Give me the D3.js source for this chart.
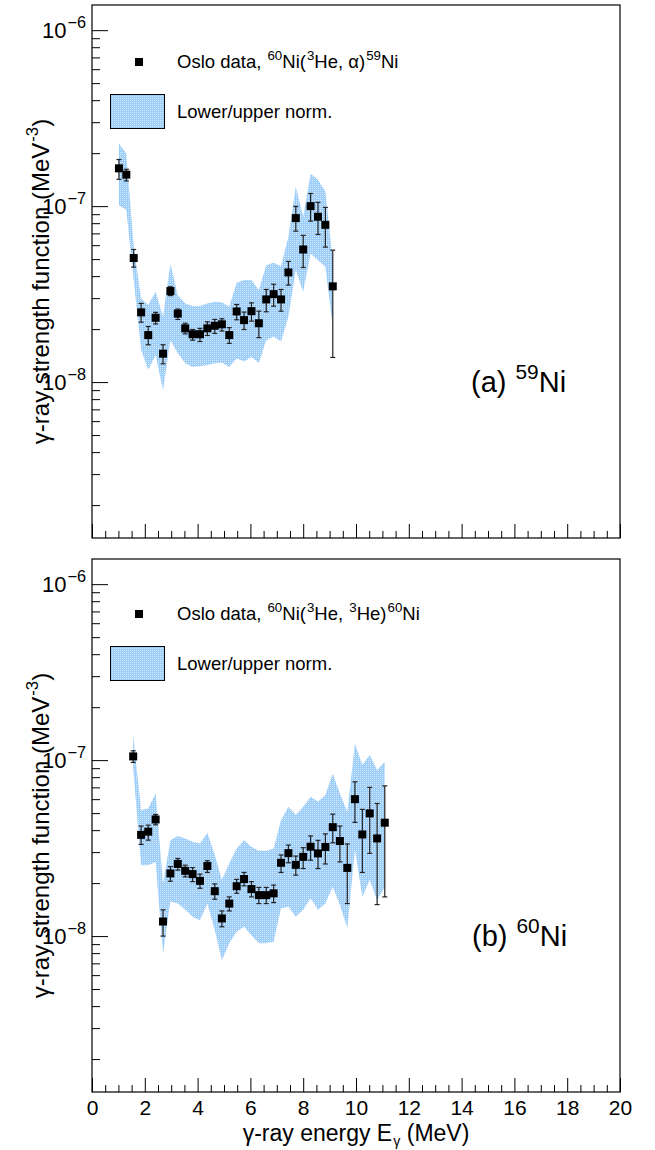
<!DOCTYPE html>
<html>
<head>
<meta charset="utf-8">
<script src="https://cdn.jsdelivr.net/npm/d3@7"></script>
<style>
  body { margin: 0; background: #fff; }
  text { font-family: "Liberation Sans", Arial, Helvetica, sans-serif; fill: #000; }
</style>
</head>
<body>
<div id="chart"></div>
<script>
// ---- data: panel (a) 59Ni ----
var energyA = [1.02, 1.30, 1.58, 1.86, 2.13, 2.41, 2.69, 2.97, 3.25, 3.53, 3.81, 4.09, 4.37, 4.65, 4.92,
               5.20, 5.48, 5.76, 6.04, 6.32, 6.60, 6.88, 7.16, 7.44, 7.72, 8.00, 8.28, 8.56, 8.84, 9.12];
var fA    = [1.64e-7, 1.51e-7, 5.07e-8, 2.49e-8, 1.85e-8, 2.32e-8, 1.45e-8, 3.29e-8, 2.45e-8, 2.02e-8,
             1.87e-8, 1.87e-8, 2.02e-8, 2.09e-8, 2.13e-8, 1.85e-8, 2.52e-8, 2.25e-8, 2.53e-8, 2.16e-8,
             2.95e-8, 3.16e-8, 2.95e-8, 4.20e-8, 8.55e-8, 5.67e-8, 1.00e-7, 8.70e-8, 7.83e-8, 3.50e-8];
var fA_hi = [1.84e-7, 1.62e-7, 5.67e-8, 2.80e-8, 2.07e-8, 2.49e-8, 1.63e-8, 3.48e-8, 2.60e-8, 2.16e-8,
             1.99e-8, 2.02e-8, 2.20e-8, 2.27e-8, 2.29e-8, 2.04e-8, 2.76e-8, 2.50e-8, 2.82e-8, 2.53e-8,
             3.36e-8, 3.60e-8, 3.36e-8, 4.85e-8, 9.96e-8, 6.82e-8, 1.18e-7, 1.05e-7, 9.83e-8, 5.62e-8];
var fA_lo = [1.42e-7, 1.39e-7, 4.50e-8, 2.19e-8, 1.63e-8, 2.14e-8, 1.27e-8, 3.10e-8, 2.27e-8, 1.88e-8,
             1.73e-8, 1.70e-8, 1.84e-8, 1.89e-8, 1.95e-8, 1.66e-8, 2.26e-8, 1.99e-8, 2.22e-8, 1.79e-8,
             2.51e-8, 2.70e-8, 2.53e-8, 3.56e-8, 7.21e-8, 4.48e-8, 8.22e-8, 6.90e-8, 5.85e-8, 1.38e-8];
var bandA_hi = [2.27e-7, 1.99e-7, 5.87e-8, 2.99e-8, 2.74e-8, 3.26e-8, 2.35e-8, 4.72e-8, 3.12e-8, 2.80e-8,
                2.71e-8, 2.71e-8, 2.80e-8, 2.86e-8, 2.84e-8, 2.68e-8, 3.67e-8, 3.80e-8, 3.80e-8, 3.33e-8,
                4.62e-8, 4.77e-8, 4.56e-8, 6.70e-8, 1.29e-7, 8.70e-8, 1.53e-7, 1.41e-7, 1.21e-7, 4.93e-8];
var bandA_lo = [1.01e-7, 9.50e-8, 3.80e-8, 1.52e-8, 1.17e-8, 1.42e-8, 9.00e-9, 1.73e-8, 1.46e-8, 1.28e-8,
                1.22e-8, 1.23e-8, 1.25e-8, 1.28e-8, 1.29e-8, 1.22e-8, 1.36e-8, 1.31e-8, 1.39e-8, 1.28e-8,
                1.73e-8, 1.81e-8, 1.70e-8, 2.35e-8, 4.33e-8, 3.26e-8, 5.38e-8, 4.93e-8, 4.52e-8, 2.06e-8];

// ---- data: panel (b) 60Ni ----
var energyB = [1.56, 1.86, 2.13, 2.41, 2.69, 2.97, 3.25, 3.53, 3.81, 4.09, 4.37, 4.65, 4.92, 5.20, 5.48,
               5.76, 6.04, 6.32, 6.60, 6.88, 7.16, 7.44, 7.72, 8.00, 8.28, 8.56, 8.84, 9.12, 9.39, 9.67,
               9.96, 10.24, 10.52, 10.80, 11.09];
var fB    = [1.05e-7, 3.76e-8, 3.92e-8, 4.60e-8, 1.21e-8, 2.27e-8, 2.57e-8, 2.35e-8, 2.25e-8, 2.06e-8,
             2.50e-8, 1.80e-8, 1.26e-8, 1.53e-8, 1.92e-8, 2.11e-8, 1.85e-8, 1.71e-8, 1.71e-8, 1.75e-8,
             2.61e-8, 2.96e-8, 2.54e-8, 2.82e-8, 3.22e-8, 2.95e-8, 3.21e-8, 4.16e-8, 3.47e-8, 2.44e-8,
             6.00e-8, 3.78e-8, 4.98e-8, 3.59e-8, 4.41e-8];
var fB_hi = [1.13e-7, 4.22e-8, 4.27e-8, 4.91e-8, 1.41e-8, 2.48e-8, 2.76e-8, 2.53e-8, 2.45e-8, 2.25e-8,
             2.68e-8, 1.98e-8, 1.39e-8, 1.67e-8, 2.10e-8, 2.30e-8, 2.04e-8, 1.89e-8, 1.89e-8, 1.95e-8,
             2.89e-8, 3.29e-8, 2.85e-8, 3.18e-8, 3.71e-8, 3.50e-8, 3.81e-8, 4.93e-8, 4.22e-8, 3.34e-8,
             7.53e-8, 5.25e-8, 7.00e-8, 5.67e-8, 7.14e-8];
var fB_lo = [9.70e-8, 3.32e-8, 3.51e-8, 4.29e-8, 1.00e-8, 2.05e-8, 2.37e-8, 2.17e-8, 2.04e-8, 1.87e-8,
             2.30e-8, 1.62e-8, 1.13e-8, 1.39e-8, 1.75e-8, 1.93e-8, 1.67e-8, 1.53e-8, 1.53e-8, 1.55e-8,
             2.30e-8, 2.61e-8, 2.22e-8, 2.42e-8, 2.70e-8, 2.42e-8, 2.57e-8, 3.39e-8, 2.64e-8, 1.53e-8,
             4.43e-8, 2.30e-8, 2.95e-8, 1.51e-8, 1.67e-8];
var bandB_hi = [1.39e-7, 5.20e-8, 5.31e-8, 6.47e-8, 1.99e-8, 3.51e-8, 3.70e-8, 3.59e-8, 3.44e-8, 3.36e-8,
                3.86e-8, 2.89e-8, 2.08e-8, 2.59e-8, 3.15e-8, 3.51e-8, 3.22e-8, 3.05e-8, 3.05e-8, 3.15e-8,
                4.56e-8, 5.43e-8, 4.87e-8, 5.43e-8, 6.19e-8, 5.80e-8, 6.33e-8, 8.40e-8, 6.47e-8, 5.09e-8,
                1.24e-7, 9.37e-8, 1.07e-7, 8.78e-8, 9.80e-8];
var bandB_lo = [8.97e-8, 2.53e-8, 2.53e-8, 2.64e-8, 7.97e-9, 1.57e-8, 1.53e-8, 1.41e-8, 1.29e-8, 1.23e-8,
                1.53e-8, 1.08e-8, 7.30e-9, 9.10e-9, 1.06e-8, 1.13e-8, 1.01e-8, 9.10e-9, 9.10e-9, 9.30e-9,
                1.44e-8, 1.47e-8, 1.29e-8, 1.41e-8, 1.64e-8, 1.41e-8, 1.53e-8, 1.91e-8, 1.50e-8, 1.11e-8,
                3.08e-8, 1.67e-8, 2.08e-8, 1.60e-8, 1.91e-8];

// axis settings
var xDomain = [0, 20];
var xMajor = [0, 2, 4, 6, 8, 10, 12, 14, 16, 18, 20];
var yDomain = [1.3e-9, 1.39e-6];
var yDecades = [1e-8, 1e-7, 1e-6];

var width = 655, height = 1150;
var left = 92, right = 620;
var font = '"Liberation Sans", Arial, Helvetica, sans-serif';

var svg = d3.select('#chart').append('svg')
    .attr('width', width).attr('height', height);

// dotted light-blue fill like the ROOT band
var defs = svg.append('defs');
var pat = defs.append('pattern').attr('id', 'dots')
    .attr('width', 2).attr('height', 2).attr('patternUnits', 'userSpaceOnUse');
pat.append('rect').attr('width', 2).attr('height', 2).attr('fill', '#9ccdf8');
pat.append('rect').attr('width', 1).attr('height', 1).attr('fill', '#d6ebfd');

var x = d3.scaleLinear().domain(xDomain).range([left, right]);

// adds text pieces, some raised or lowered (ratio = size of the small ones)
function richText(sel, parts, size, ratio, gap, subShift) {
    var shift = 0;
    ratio = ratio || 0.7;
    gap = gap || 0;
    parts.forEach(function(p, i) {
        var t = sel.append('tspan').text(p[0]);
        var target = 0, fs = size;
        if (p[1] === 'sup') { target = -0.45 * size; fs = size * ratio; }
        if (p[1] === 'sub') { target = (subShift || 0.38) * size; fs = size * ratio; }
        t.attr('dy', target - shift).attr('font-size', fs);
        if (i > 0 && p[1]) t.attr('dx', gap);
        shift = target;
    });
}

function drawPanel(cfg, idx) {
    var y = d3.scaleLog().domain(yDomain).range([cfg.bottom, cfg.top]);
    var g = svg.append('g');

    defs.append('clipPath').attr('id', 'clip' + idx)
        .append('rect').attr('x', left).attr('y', cfg.top)
        .attr('width', right - left).attr('height', cfg.bottom - cfg.top);

    var rows = cfg.e.map(function(e, i) {
        return { e: e, f: cfg.f[i], hi: cfg.fhi[i], lo: cfg.flo[i], bhi: cfg.bhi[i], blo: cfg.blo[i] };
    });

    // normalization band
    var area = d3.area()
        .x(function(d) { return x(d.e); })
        .y0(function(d) { return y(d.blo); })
        .y1(function(d) { return y(d.bhi); });
    g.append('path').datum(rows)
        .attr('clip-path', 'url(#clip' + idx + ')')
        .attr('d', area)
        .attr('fill', 'url(#dots)');

    // error bars
    var eb = g.append('g').selectAll('g').data(rows).enter().append('g');
    eb.append('line')
        .attr('x1', function(d) { return x(d.e); }).attr('x2', function(d) { return x(d.e); })
        .attr('y1', function(d) { return y(d.lo); }).attr('y2', function(d) { return y(d.hi); })
        .attr('stroke', '#222').attr('stroke-width', 1.2);
    ['lo', 'hi'].forEach(function(k) {
        eb.append('line')
            .attr('x1', function(d) { return x(d.e) - 2.5; }).attr('x2', function(d) { return x(d.e) + 2.5; })
            .attr('y1', function(d) { return y(d[k]); }).attr('y2', function(d) { return y(d[k]); })
            .attr('stroke', '#222').attr('stroke-width', 1.2);
    });

    // markers
    g.append('g').selectAll('rect').data(rows).enter().append('rect')
        .attr('x', function(d) { return x(d.e) - 4; })
        .attr('y', function(d) { return y(d.f) - 4; })
        .attr('width', 8).attr('height', 8)
        .attr('fill', '#000');

    // x ticks (pointing inward)
    var xMinor = d3.range(0, 20.01, 0.5).filter(function(v) { return v % 2 !== 0; });
    g.append('g').attr('transform', 'translate(0,' + cfg.bottom + ')')
        .call(d3.axisBottom(x).tickValues(xMajor).tickSizeInner(-14).tickSizeOuter(0).tickPadding(8)
            .tickFormat(cfg.xlabels ? d3.format('d') : ''));
    g.append('g').attr('transform', 'translate(0,' + cfg.bottom + ')')
        .call(d3.axisBottom(x).tickValues(xMinor).tickSizeInner(-7).tickSizeOuter(0).tickFormat(''));

    // y ticks
    var yMin = y.ticks().filter(function(v) { return yDecades.indexOf(v) < 0; });
    g.append('g').attr('transform', 'translate(' + left + ',0)')
        .call(d3.axisLeft(y).tickValues(yDecades).tickSizeInner(-16).tickSizeOuter(0).tickFormat(''));
    g.append('g').attr('transform', 'translate(' + left + ',0)')
        .call(d3.axisLeft(y).tickValues(yMin).tickSizeInner(-8).tickSizeOuter(0).tickFormat(''));

    g.selectAll('.domain').remove();
    g.selectAll('.tick line').attr('stroke', '#000').attr('stroke-width', 1);
    g.selectAll('.tick text').attr('font-size', 21).attr('font-family', font).attr('fill', '#000');

    // decade labels
    yDecades.forEach(function(v) {
        var t = g.append('text')
            .attr('x', left - 6).attr('y', y(v) + 7.5)
            .attr('text-anchor', 'end').attr('font-size', 22);
        richText(t, [['10', null], ['\u2212' + Math.round(-Math.log10(v)), 'sup']], 22, 0.74, 1);
    });

    // frame
    g.append('rect')
        .attr('x', left).attr('y', cfg.top)
        .attr('width', right - left).attr('height', cfg.bottom - cfg.top)
        .attr('fill', 'none').attr('stroke', '#000').attr('stroke-width', 1.2);

    // y title
    var yt = g.append('text')
        .attr('transform', 'translate(49,' + ((cfg.top + cfg.bottom) / 2 + 10) + ') rotate(-90)')
        .attr('text-anchor', 'middle').attr('font-size', 24);
    richText(yt, [['\u03b3-ray strength function (MeV', null], ['-3', 'sup'], [')', null]], 24, 0.7, 1);

    // legend
    var l0 = cfg.top + cfg.legY;
    g.append('rect').attr('x', 135).attr('y', l0 - 4).attr('width', 8).attr('height', 8).attr('fill', '#000');
    var lt = g.append('text').attr('x', 177).attr('y', l0 + 6).attr('font-size', 18.5);
    richText(lt, cfg.legend, 18.5, 0.72, 1);
    g.append('rect').attr('x', 110.5).attr('y', l0 + 32.5).attr('width', 54).attr('height', 34)
        .attr('fill', 'url(#dots)').attr('stroke', '#000').attr('stroke-width', 1);
    g.append('text').attr('x', 177).attr('y', l0 + 56).attr('font-size', 18.5).text('Lower/upper norm.');

    // panel label
    var pl = g.append('text').attr('x', cfg.labX).attr('y', cfg.top + 387).attr('font-size', 29);
    richText(pl, cfg.label, 29, 0.72, 1);
}

drawPanel({ top: 5, bottom: 538, e: energyA, f: fA, fhi: fA_hi, flo: fA_lo, bhi: bandA_hi, blo: bandA_lo,
    xlabels: false, legY: 57, labX: 471,
    legend: [['Oslo data, ', null], ['60', 'sup'], ['Ni(', null], ['3', 'sup'], ['He, \u03b1)', null], ['59', 'sup'], ['Ni', null]],
    label: [['(a) ', null], ['59', 'sup'], ['Ni', null]] }, 0);

drawPanel({ top: 559, bottom: 1092, e: energyB, f: fB, fhi: fB_hi, flo: fB_lo, bhi: bandB_hi, blo: bandB_lo,
    xlabels: true, legY: 55, labX: 472,
    legend: [['Oslo data, ', null], ['60', 'sup'], ['Ni(', null], ['3', 'sup'], ['He, ', null], ['3', 'sup'], ['He)', null], ['60', 'sup'], ['Ni', null]],
    label: [['(b) ', null], ['60', 'sup'], ['Ni', null]] }, 1);

// x title
var xt = svg.append('text').attr('x', 356).attr('y', 1141)
    .attr('text-anchor', 'middle').attr('font-size', 23);
richText(xt, [['\u03b3-ray energy E', null], ['\u03b3', 'sub'], [' (MeV)', null]], 23, 0.62, 1, 0.2);
</script>
</body>
</html>
